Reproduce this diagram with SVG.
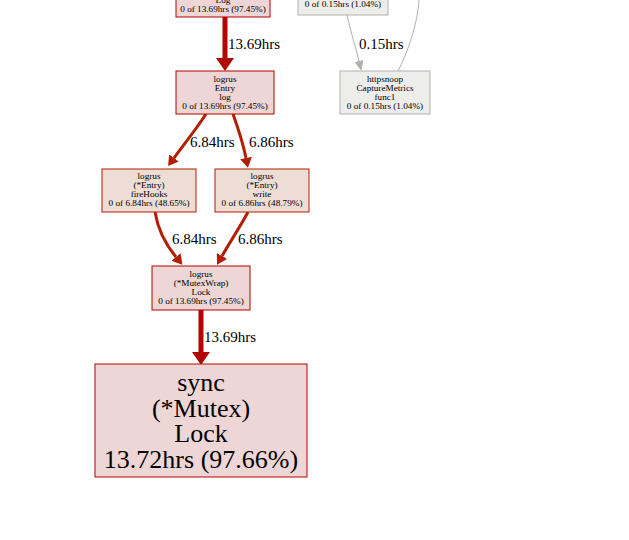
<svg xmlns="http://www.w3.org/2000/svg" width="629" height="540" viewBox="0 0 629 540">
<style>
text{font-family:"Liberation Serif","Times New Roman",serif;fill:#000;text-anchor:middle}
.s{font-size:9.2px}
.l{font-size:15px;text-anchor:start}
.big{font-size:26px}
.red{fill:#edd6d5;stroke:#b20500;stroke-width:1}
.red2{fill:#edddd5;stroke:#b21e00;stroke-width:1}
.gray{fill:#ededec;stroke:#b2b1ae;stroke-width:1}
.e5{fill:none;stroke:#b20500;stroke-width:5}
.e3{fill:none;stroke:#b21e00;stroke-width:3}
.eg{fill:none;stroke:#b2b1ae;stroke-width:1}
</style>
<defs>
<marker id="a5" markerUnits="userSpaceOnUse" viewBox="0 0 13 18" markerWidth="13" markerHeight="18" refX="0" refY="9" orient="auto"><path d="M0,0 L13,9 L0,18 z" fill="#b20500"/></marker>
<marker id="a3" markerUnits="userSpaceOnUse" viewBox="0 0 10 12" markerWidth="10" markerHeight="12" refX="0" refY="6" orient="auto"><path d="M0,0 L10,6 L0,12 z" fill="#b21e00"/></marker>
<marker id="ag" markerUnits="userSpaceOnUse" viewBox="0 0 9 8" markerWidth="9" markerHeight="8" refX="0" refY="4" orient="auto"><path d="M0,0 L9,4 L0,8 z" fill="#b2b1ae" stroke="#b2b1ae"/></marker>
</defs>
<rect width="629" height="540" fill="#fff"/>
<g id="connectors">
<path class="e5" d="M225,17 L225,58" marker-end="url(#a5)"/>
<text class="l" x="228" y="49">13.69hrs</text>
<path class="e3" d="M206,114 C197,128 185,143 174,158" marker-end="url(#a3)"/>
<text class="l" x="190" y="147">6.84hrs</text>
<path class="e3" d="M233,114 C238,128 243,143 246,158" marker-end="url(#a3)"/>
<text class="l" x="249" y="147">6.86hrs</text>
<path class="e3" d="M155,212 C158,230 166,245 176,257" marker-end="url(#a3)"/>
<text class="l" x="172" y="244">6.84hrs</text>
<path class="e3" d="M248,212 C240,227 230,242 222,256" marker-end="url(#a3)"/>
<text class="l" x="238" y="244">6.86hrs</text>
<path class="e5" d="M201,310 L201,352" marker-end="url(#a5)"/>
<text class="l" x="204" y="342">13.69hrs</text>
<path class="eg" d="M347,15 C351,33 356,48 359,61" marker-end="url(#ag)"/>
<text class="l" x="359" y="49">0.15hrs</text>
<path class="eg" d="M398,71 C408,52 418,22 419,0"/>
</g>
<g id="node-log">
<rect class="red" x="176" y="-30" width="94" height="47"/>
<text class="s" x="223" y="3">Log</text>
<text class="s" x="223" y="12">0 of 13.69hrs (97.45%)</text>
</g>
<g id="node-top-gray">
<rect class="gray" x="298" y="-30" width="90" height="45"/>
<text class="s" x="343" y="7">0 of 0.15hrs (1.04%)</text>
</g>
<g id="node-entry-log">
<rect class="red" x="176" y="71" width="98" height="43"/>
<text class="s" x="225" y="82">logrus</text>
<text class="s" x="225" y="91">Entry</text>
<text class="s" x="225" y="100">log</text>
<text class="s" x="225" y="109">0 of 13.69hrs (97.45%)</text>
</g>
<g id="node-httpsnoop">
<rect class="gray" x="340" y="71" width="90" height="43"/>
<text class="s" x="385" y="82">httpsnoop</text>
<text class="s" x="385" y="91">CaptureMetrics</text>
<text class="s" x="385" y="100">func1</text>
<text class="s" x="385" y="109">0 of 0.15hrs (1.04%)</text>
</g>
<g id="node-firehooks">
<rect class="red2" x="102" y="169" width="94" height="43"/>
<text class="s" x="149" y="179">logrus</text>
<text class="s" x="149" y="188">(*Entry)</text>
<text class="s" x="149" y="197">fireHooks</text>
<text class="s" x="149" y="206">0 of 6.84hrs (48.65%)</text>
</g>
<g id="node-write">
<rect class="red2" x="215" y="169" width="94" height="43"/>
<text class="s" x="262" y="179">logrus</text>
<text class="s" x="262" y="188">(*Entry)</text>
<text class="s" x="262" y="197">write</text>
<text class="s" x="262" y="206">0 of 6.86hrs (48.79%)</text>
</g>
<g id="node-mutexwrap">
<rect class="red" x="152" y="266" width="98" height="44"/>
<text class="s" x="201" y="277">logrus</text>
<text class="s" x="201" y="286">(*MutexWrap)</text>
<text class="s" x="201" y="295">Lock</text>
<text class="s" x="201" y="304">0 of 13.69hrs (97.45%)</text>
</g>
<g id="node-sync">
<rect class="red" x="95" y="364" width="212" height="113"/>
<text class="big" x="201" y="391">sync</text>
<text class="big" x="201" y="417">(*Mutex)</text>
<text class="big" x="201" y="442">Lock</text>
<text class="big" x="201" y="468">13.72hrs (97.66%)</text>
</g>
</svg>
